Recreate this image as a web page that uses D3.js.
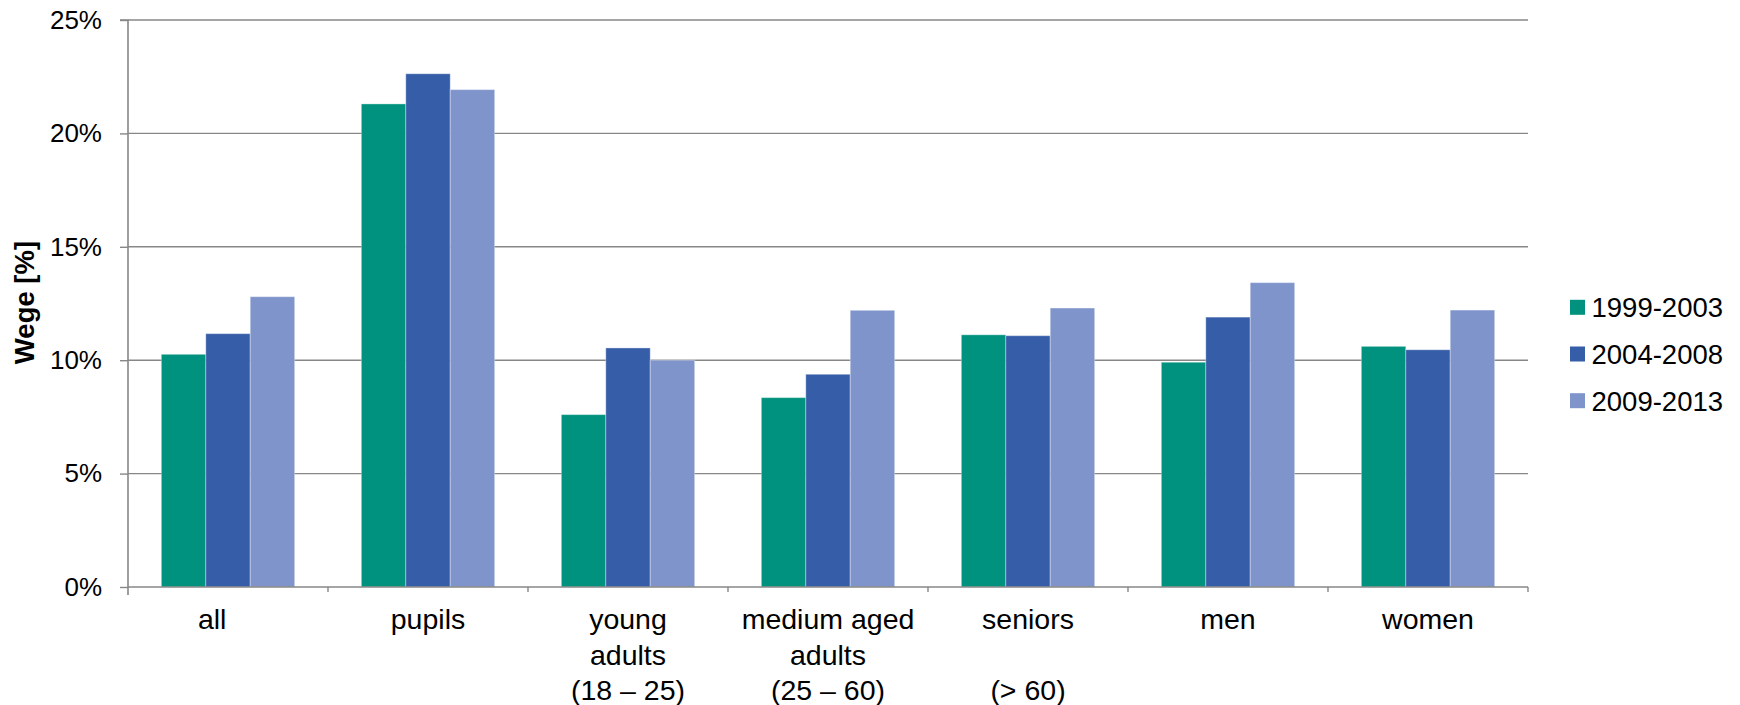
<!DOCTYPE html>
<html>
<head>
<meta charset="utf-8">
<script src="https://cdn.jsdelivr.net/npm/d3@7"></script>
<style>
  html, body { margin: 0; padding: 0; background: #fff; }
  svg { display: block; font-family: "Liberation Sans", Arial, sans-serif; }
</style>
</head>
<body>
<svg id="chart" width="1740" height="705"></svg>
<script>
// Share of trips ("Wege") by population group, three survey periods
const categories = ["all", "pupils", "young adults", "medium aged adults", "seniors", "men", "women"];
const categoryLines = [
  ["all\u00a0\u00a0\u00a0\u00a0"],
  ["pupils"],
  ["young", "adults", "(18 – 25)"],
  ["medium aged", "adults", "(25 – 60)"],
  ["seniors", "", "(> 60)"],
  ["men"],
  ["women"]
];
const seriesNames = ["1999-2003", "2004-2008", "2009-2013"];
const values1999 = [10.26, 21.30, 7.60, 8.35, 11.12, 9.91, 10.61];
const values2004 = [11.17, 22.63, 10.54, 9.38, 11.08, 11.90, 10.46];
const values2009 = [12.80, 21.93, 10.00, 12.20, 12.30, 13.42, 12.21];
const yTicks = [0, 5, 10, 15, 20, 25];
const colors = ["#00927e", "#365ea8", "#7e94cb"];

const seriesValues = [values1999, values2004, values2009];
const data = categories.map((c, i) => ({
  category: c,
  lines: categoryLines[i],
  bars: seriesNames.map((s, j) => ({ series: s, value: seriesValues[j][i] }))
}));

const svg = d3.select("#chart");
const plotLeft = 128, plotRight = 1528, plotTop = 20, plotBottom = 587;
const gridColor = "#878787";

const x0 = d3.scaleBand().domain(categories).range([plotLeft, plotRight]).padding(0);
const x1 = d3.scaleBand().domain(seriesNames).range([0, x0.bandwidth()])
  .paddingInner(0).paddingOuter(0.75);
const y = d3.scaleLinear().domain([0, 25]).range([plotBottom, plotTop]);
const color = d3.scaleOrdinal().domain(seriesNames).range(colors);

// horizontal gridlines
svg.append("g")
  .selectAll("line")
  .data(yTicks.filter(t => t > 0))
  .join("line")
  .attr("x1", plotLeft).attr("x2", plotRight)
  .attr("y1", d => y(d)).attr("y2", d => y(d))
  .attr("stroke", gridColor).attr("stroke-width", 1.4);

// bars
const groups = svg.append("g")
  .selectAll("g")
  .data(data)
  .join("g")
  .attr("transform", d => `translate(${x0(d.category)},0)`);

groups.selectAll("rect")
  .data(d => d.bars)
  .join("rect")
  .attr("x", d => x1(d.series))
  .attr("y", d => y(d.value))
  .attr("width", x1.bandwidth())
  .attr("height", d => y(0) - y(d.value))
  .attr("fill", d => color(d.series))
  .attr("stroke", "rgba(255,255,255,0.35)")
  .attr("stroke-width", 1);

// y axis
const yAxis = d3.axisLeft(y)
  .tickValues(yTicks)
  .tickFormat(d => d + "%")
  .tickSize(8)
  .tickPadding(18);
const gy = svg.append("g").attr("transform", `translate(${plotLeft},0)`).call(yAxis);
gy.select(".domain").attr("stroke", gridColor).attr("stroke-width", 1.6)
  .attr("d", `M-8,${plotTop}H0V${plotBottom + 8}`);
gy.selectAll(".tick line").attr("stroke", gridColor).attr("stroke-width", 1.4);
gy.selectAll(".tick text")
  .attr("font-size", 26)
  .attr("fill", "#000")
  .attr("font-family", "'Liberation Sans', Arial, sans-serif");

// x axis baseline with ticks at category boundaries
const gx = svg.append("g");
gx.append("line")
  .attr("x1", plotLeft).attr("x2", plotRight)
  .attr("y1", plotBottom).attr("y2", plotBottom)
  .attr("stroke", gridColor).attr("stroke-width", 1.6);
gx.selectAll("line.bt")
  .data(categories.slice(1).concat(["__end"]))
  .join("line")
  .attr("class", "bt")
  .attr("x1", d => d === "__end" ? plotRight : x0(d))
  .attr("x2", d => d === "__end" ? plotRight : x0(d))
  .attr("y1", plotBottom).attr("y2", plotBottom + 5)
  .attr("stroke", gridColor).attr("stroke-width", 1.4);

// category labels
const labels = svg.append("g")
  .selectAll("text")
  .data(data)
  .join("text")
  .attr("text-anchor", "middle")
  .attr("font-size", 28.5)
  .attr("fill", "#000")
  .attr("x", d => x0(d.category) + x0.bandwidth() / 2)
  .attr("y", 629);
labels.selectAll("tspan")
  .data(d => d.lines.map(l => ({ line: l, x: x0(d.category) + x0.bandwidth() / 2 })))
  .join("tspan")
  .attr("x", d => d.x)
  .attr("dy", (d, i) => i === 0 ? 0 : 35.5)
  .text(d => d.line === "" ? "\u00a0" : d.line);

// y axis title
svg.append("text")
  .attr("transform", `translate(33.5,302.5) rotate(-90)`)
  .attr("text-anchor", "middle")
  .attr("font-size", 27.5)
  .attr("font-weight", "bold")
  .attr("fill", "#000")
  .text("Wege [%]");

// legend
const legend = svg.append("g")
  .selectAll("g")
  .data(seriesNames)
  .join("g")
  .attr("transform", (d, i) => `translate(1570,${307.3 + i * 46.7})`);
legend.append("rect")
  .attr("x", 0).attr("y", -7.5)
  .attr("width", 15).attr("height", 15)
  .attr("fill", d => color(d));
legend.append("text")
  .attr("x", 21.5).attr("y", 0)
  .attr("dy", "0.36em")
  .attr("font-size", 27.5)
  .attr("fill", "#000")
  .text(d => d);
</script>
</body>
</html>
